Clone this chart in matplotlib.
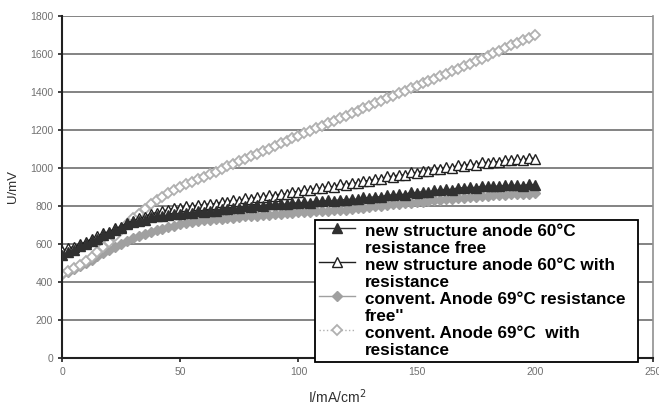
import matplotlib
matplotlib.use("Agg")
import matplotlib.pyplot as plt
import matplotlib.transforms as mtransforms
from matplotlib.legend_handler import HandlerLine2D
import numpy as np

plt.rcParams["font.family"] = ["Liberation Sans", "DejaVu Sans"]

# current density, mA/cm2 (step 2.5)
current = np.arange(0, 200.01, 2.5)

new_free = [
    540, 558, 568, 588, 600, 615, 628, 648, 660, 672, 685, 705, 715,
    722, 728, 741, 745, 750, 751, 760, 760, 765, 763, 772, 770,
    776, 774, 785, 783, 790, 788, 799, 797, 803, 800, 810, 808,
    812, 809, 817, 815, 820, 818, 827, 825, 829, 826, 834, 832,
    837, 835, 845, 843, 850, 847, 859, 857, 863, 860, 872, 870,
    876, 873, 884, 882, 889, 886, 897, 895, 899, 896, 905, 903,
    906, 903, 910, 908, 910, 907, 914, 912,
]
new_res = [
    565, 578, 586, 601, 610, 628, 640, 658, 665, 682, 692, 712, 720,
    735, 743, 760, 765, 775, 778, 790, 790, 798, 796, 806, 805,
    812, 811, 822, 822, 830, 828, 840, 838, 846, 845, 857, 855,
    864, 862, 876, 874, 884, 882, 895, 893, 903, 901, 915, 913,
    922, 920, 934, 932, 944, 940, 957, 955, 965, 962, 977, 975,
    985, 982, 997, 995, 1004, 1001, 1015, 1013, 1020, 1018, 1030, 1028,
    1034, 1031, 1043, 1040, 1045, 1042, 1052, 1050,
]
conv_free = [
    440, 452, 468, 484, 500, 517, 535, 552, 570, 585, 600, 615, 630,
    641, 652, 662, 672, 681, 689, 697, 705, 710, 715, 720, 725,
    728, 730, 733, 735, 738, 742, 745, 748, 750, 753, 755, 757,
    759, 762, 764, 766, 768, 770, 772, 774, 776, 778, 779, 781,
    785, 788, 792, 795, 798, 802, 805, 808, 811, 814, 817, 820,
    823, 826, 829, 832, 835, 838, 840, 843, 846, 849, 852, 855,
    857, 859, 860, 862, 863, 864, 865, 866,
]
conv_res = [
    440, 457, 474, 492, 510, 533, 557, 583, 610, 642, 673, 705, 735,
    760, 784, 808, 830, 848, 866, 884, 900, 914, 928, 941, 955,
    968, 981, 995, 1008, 1021, 1035, 1048, 1062, 1075, 1089, 1102, 1115,
    1129, 1143, 1156, 1170, 1183, 1196, 1209, 1222, 1235, 1249, 1262, 1275,
    1288, 1301, 1315, 1328, 1341, 1354, 1367, 1380, 1393, 1406, 1419, 1432,
    1445, 1457, 1470, 1482, 1495, 1508, 1522, 1535, 1549, 1563, 1576, 1590,
    1604, 1617, 1631, 1645, 1659, 1672, 1686, 1700,
]

labels = [
    "new structure anode 60°C\nresistance free",
    "new structure anode 60°C with\nresistance",
    "convent. Anode 69°C resistance\nfree''",
    "convent. Anode 69°C  with\nresistance",
]


class FirstLineHandler(HandlerLine2D):
    # put the legend symbol next to the first text line, like Excel does
    def create_artists(self, legend, orig_handle, xdescent, ydescent,
                       width, height, fontsize, trans):
        shift = mtransforms.ScaledTranslation(
            0, 0.72 * fontsize / 72, legend.figure.dpi_scale_trans)
        return super().create_artists(legend, orig_handle, xdescent, ydescent,
                                      width, height, fontsize, trans + shift)


fig = plt.figure(figsize=(6.59, 4.03), dpi=100)
ax = fig.add_axes([62 / 659, 1 - 358 / 403, 591 / 659, 342 / 403])

l1, = ax.plot(current, new_free, color="#303030", marker="^", markersize=7,
              linewidth=1, label=labels[0], zorder=4)
l2, = ax.plot(current, new_res, color="#202020", marker="^", markersize=7,
              markerfacecolor="white", markeredgewidth=1, linewidth=1,
              label=labels[1], zorder=3)
l3, = ax.plot(current, conv_free, color="#a0a0a0", marker="D", markersize=5,
              linewidth=1, label=labels[2], zorder=2)
l4, = ax.plot(current, conv_res, color="#b0b0b0", marker="D", markersize=5,
              markerfacecolor="white", markeredgewidth=1.3, linewidth=1,
              linestyle=":", label=labels[3], zorder=2)

ax.set_xlim(0, 250)
ax.set_ylim(0, 1800)
ax.set_xticks(np.arange(0, 251, 50))
ax.set_yticks(np.arange(0, 1801, 200))
ax.yaxis.grid(True, color="#7a7a7a", linewidth=1.3)
ax.set_axisbelow(True)

for side in ["left", "bottom"]:
    ax.spines[side].set_color("#202020")
    ax.spines[side].set_linewidth(1.5)
ax.spines["top"].set_visible(False)
ax.spines["right"].set_color("#909090")
ax.spines["right"].set_linewidth(1.2)

ax.tick_params(axis="both", colors="#202020", labelcolor="#707070",
               labelsize=7.5, length=3, width=1.2, direction="out")

ax.set_ylabel("U/mV", fontsize=9.5, color="#303030")
ax.yaxis.set_label_coords(-0.072, 0.5)
ax.set_xlabel("I/mA/cm$^2$", fontsize=10, color="#303030")
ax.xaxis.set_label_coords(0.465, -0.085)

handler = FirstLineHandler()
leg = ax.legend(handles=[l1, l2, l3, l4], loc="lower left",
                bbox_to_anchor=(0.428, -0.012, 0.547, 0.42), mode="expand",
                prop={"weight": "bold", "size": 12.3},
                frameon=True, fancybox=False, framealpha=1,
                edgecolor="black", borderpad=0.22, labelspacing=0.1,
                handlelength=2.1, handletextpad=0.6, borderaxespad=0,
                handler_map={l1: handler, l2: handler, l3: handler, l4: handler})
leg.get_frame().set_linewidth(1.3)
leg.set_zorder(10)

fig.savefig("out.png", dpi=100)
